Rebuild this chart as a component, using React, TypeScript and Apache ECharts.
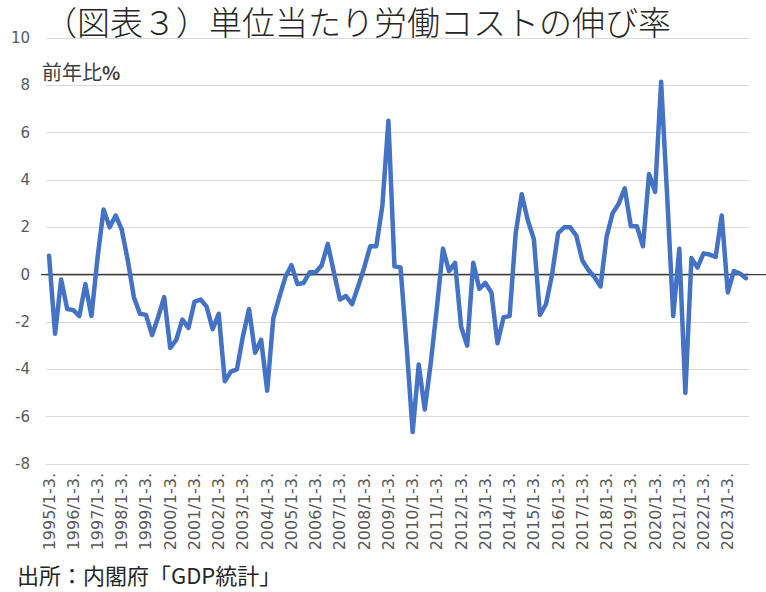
import React, { useEffect, useRef } from "react";
import * as echarts from "echarts";

// Years on the category axis (quarterly data, 1995 Q1 – 2023 Q4)
const years: number[] = Array.from({ length: 29 }, (_, k) => 1995 + k);
const quarterSuffix: string[] = ["1-3.", "4-6.", "7-9.", "10-12."];

// Unit labour cost growth, % y/y
const values1995to2004: number[] = [
  0.8, -2.5, -0.2, -1.45,
  -1.5, -1.75, -0.4, -1.75,
  0.7, 2.75, 2.0, 2.5,
  1.9, 0.6, -0.95, -1.65,
  -1.7, -2.55, -1.8, -0.95,
  -3.1, -2.75, -1.9, -2.25,
  -1.15, -1.05, -1.35, -2.3,
  -1.65, -4.5, -4.1, -4.0,
  -2.6, -1.45, -3.3, -2.75,
  -4.9, -1.85, -0.95, -0.1,
];
const values2005to2014: number[] = [
  0.4, -0.4, -0.35, 0.1,
  0.1, 0.4, 1.3, 0.1,
  -1.05, -0.9, -1.25, -0.5,
  0.3, 1.2, 1.2, 2.9,
  6.5, 0.35, 0.3, -3.0,
  -6.65, -3.8, -5.7, -3.7,
  -1.4, 1.1, 0.15, 0.5,
  -2.2, -3.0, 0.5, -0.6,
  -0.35, -0.75, -2.9, -1.8,
  -1.75, 1.75, 3.4, 2.3,
];
const values2015to2023: number[] = [
  1.5, -1.7, -1.25, 0.0,
  1.75, 2.0, 2.0, 1.65,
  0.6, 0.2, -0.1, -0.5,
  1.6, 2.6, 3.0, 3.65,
  2.05, 2.05, 1.2, 4.25,
  3.5, 8.15, 3.3, -1.75,
  1.1, -5.0, 0.7, 0.3,
  0.9, 0.85, 0.75, 2.5,
  -0.75, 0.15, 0.05, -0.15,
];

const yTicks = { min: -8, max: 10, interval: 2 };

const titleText = "（図表３）単位当たり労働コストの伸び率";
const unitText = "前年比";
const unitPct = "%";
const sourceText = "出所：内閣府「GDP統計」";

export default function App() {
  const ref = useRef<HTMLDivElement>(null);

  useEffect(() => {
    if (!ref.current) return;
    const chart = echarts.init(ref.current, null, { renderer: "svg" });

    const categories: string[] = [];
    years.forEach((y) => quarterSuffix.forEach((q) => categories.push(`${y}/${q}`)));
    const values = [...values1995to2004, ...values2005to2014, ...values2015to2023];

    const cjk = '"Noto Sans CJK JP", "Noto Sans", sans-serif';

    const baseGraphic: any[] = [
      {
        type: "text",
        id: "title",
        x: 44,
        y: 21,
        z: 5,
        style: {
          text: titleText,
          font: `300 33px ${cjk}`,
          fill: "#262626",
          align: "left",
          verticalAlign: "middle",
          lineHeight: 32,
        },
      },
      {
        type: "text",
        id: "unit",
        left: 42,
        top: 61,
        style: {
          text: `{a|${unitText}}{b|${unitPct}}`,
          rich: {
            a: { font: `normal 20px ${cjk}`, fill: "#404040", color: "#404040" },
            b: { font: `bold 19px ${cjk}`, fill: "#404040", color: "#404040" },
          },
        },
      },
      {
        type: "text",
        id: "source",
        left: 17,
        top: 563,
        style: {
          text: sourceText,
          font: `normal 22px ${cjk}`,
          fill: "#262626",
        },
      },
    ];

    chart.setOption({
      animation: false,
      backgroundColor: "#ffffff",
      grid: { left: 46, right: 17, top: 38, bottom: 128, containLabel: false },
      xAxis: {
        type: "category",
        data: categories,
        boundaryGap: true,
        axisTick: { show: false },
        axisLine: { show: true, onZero: true, lineStyle: { color: "#404040", width: 1.3 } },
        axisLabel: {
          interval: 3,
          rotate: 90,
          margin: 9,
          color: "#595959",
          fontSize: 16,
          fontFamily: '"DejaVu Sans", sans-serif',
        },
        splitLine: { show: false },
      },
      yAxis: {
        type: "value",
        min: yTicks.min,
        max: yTicks.max,
        interval: yTicks.interval,
        axisLine: { show: false },
        axisTick: { show: false },
        axisLabel: {
          margin: 16,
          color: "#595959",
          fontSize: 15,
          fontFamily: '"DejaVu Sans", sans-serif',
        },
        splitLine: { show: true, lineStyle: { color: "#d9d9d9", width: 1 } },
      },
      series: [
        {
          type: "line",
          data: values,
          showSymbol: false,
          symbol: "none",
          lineStyle: { color: "#4472C4", width: 4.5, join: "round", cap: "round" },
          itemStyle: { color: "#4472C4" },
          z: 3,
        },
      ],
      graphic: baseGraphic,
    });

    const y0 = chart.convertToPixel({ yAxisIndex: 0 }, 0) as number;
    chart.setOption({
      graphic: [
        ...baseGraphic,
        {
          type: "line",
          id: "zeroExt",
          z: 1,
          shape: { x1: 41, y1: y0, x2: 766, y2: y0 },
          style: { stroke: "#404040", lineWidth: 1.3 },
        },
      ],
    });

    return () => chart.dispose();
  }, []);

  return <div ref={ref} style={{ width: 766, height: 592, position: "absolute", left: 0, top: 0 }} />;
}
